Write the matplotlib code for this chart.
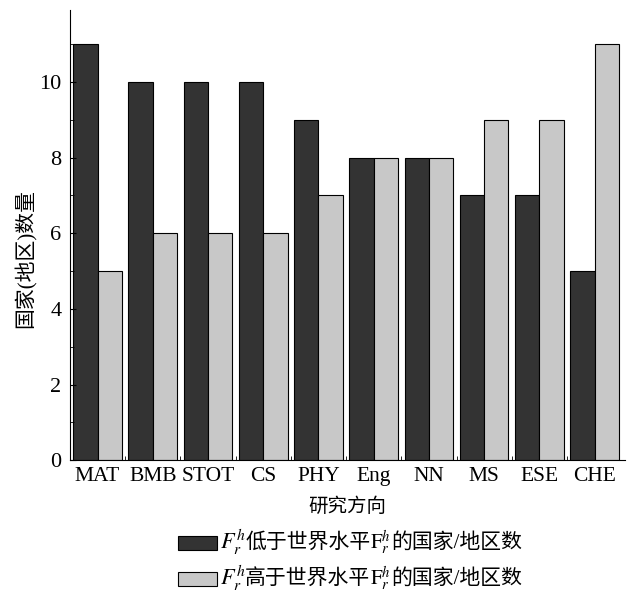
import numpy as np
import matplotlib.pyplot as plt
from matplotlib.ticker import MultipleLocator
from matplotlib.offsetbox import TextArea, HPacker, VPacker, DrawingArea, AnchoredOffsetbox
from matplotlib.patches import Rectangle

plt.rcParams['font.family'] = ['Liberation Serif', 'Noto Sans CJK SC']
plt.rcParams['mathtext.fontset'] = 'stix'

categories = ["MAT", "BMB", "STOT", "CS", "PHY", "Eng", "NN", "MS", "ESE", "CHE"]
below = [11, 10, 10, 10, 9, 8, 8, 7, 7, 5]
above = [5, 6, 6, 6, 7, 8, 8, 9, 9, 11]
legend_words = ["低于", "高于"]

dark = "#333333"
light = "#c8c8c8"

fig = plt.figure(figsize=(6.3, 5.93), dpi=100)
ax = fig.add_axes([0.111, 0.224, 0.881, 0.759])

x = np.arange(len(categories))
w = 0.44
ax.bar(x - w / 2, below, w, color=dark, edgecolor="black", linewidth=0.8)
ax.bar(x + w / 2, above, w, color=light, edgecolor="black", linewidth=0.8)

ax.set_xlim(-0.5, 9.55)
ax.set_ylim(0, 11.9)
ax.spines['top'].set_visible(False)
ax.spines['right'].set_visible(False)

ax.set_xticks(x)
ax.set_xticklabels(categories, fontsize=15.5)
ax.tick_params(axis='x', length=0, pad=5)
ax.set_xticks(x[:-1] + 0.5, minor=True)
ax.tick_params(axis='x', which='minor', direction='in', length=3)

ax.yaxis.set_major_locator(MultipleLocator(2))
ax.yaxis.set_minor_locator(MultipleLocator(1))
ax.tick_params(axis='y', which='both', direction='in', labelsize=16)
ax.tick_params(axis='y', which='major', length=4, pad=6)
ax.tick_params(axis='y', which='minor', length=3)

ax.set_xlabel("研究方向", fontsize=14, labelpad=8)
ax.set_ylabel("国家(地区)数量", fontsize=15)
ax.yaxis.set_label_coords(-0.059, 0.449)


# legend built by hand so the F^h_r math can sit next to the Chinese text
def legend_row(color, word):
    da = DrawingArea(28, 10, 0, 0)
    da.add_artist(Rectangle((0, 0), 28, 10, facecolor=color, edgecolor="black", linewidth=0.8))
    tp = dict(fontsize=15)
    parts = [TextArea(r"$F_r^h$", textprops=dict(fontsize=16)),
             TextArea(word + "世界水平", textprops=tp),
             TextArea(r"$\mathrm{F}_r^h$", textprops=dict(fontsize=15)),
             TextArea("的国家/地区数", textprops=tp)]
    txt = HPacker(children=parts, align="center", pad=0, sep=0)
    return HPacker(children=[da, txt], align="center", pad=0, sep=2)


rows = [legend_row(dark, legend_words[0]), legend_row(light, legend_words[1])]
box = VPacker(children=rows, align="left", pad=0, sep=5)
anchored = AnchoredOffsetbox(loc='upper left', child=box, pad=0, borderpad=0, frameon=False,
                             bbox_to_anchor=(178 / 630, 1 - 528 / 593),
                             bbox_transform=fig.transFigure)
fig.add_artist(anchored)

fig.savefig("out.png", dpi=100)
